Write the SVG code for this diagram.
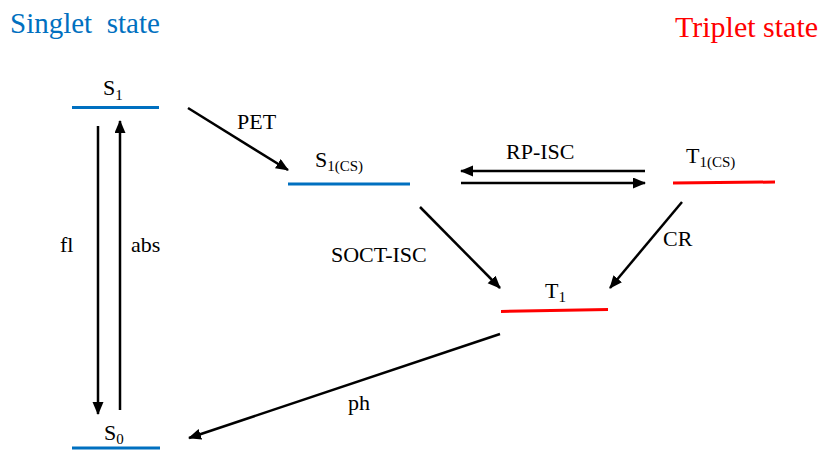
<svg xmlns="http://www.w3.org/2000/svg" width="823" height="463" viewBox="0 0 823 463">
<style>
.t{font-family:'Liberation Serif','DejaVu Serif',serif;fill:#000}
.lbl{font-size:22px}
.sub{font-size:15px}
.blue{stroke:#0070C0;stroke-width:3}
.red{stroke:#FF0000;stroke-width:3}
.arr{stroke:#000;stroke-width:2.5;fill:none;marker-end:url(#ah)}
</style>
<defs>
<marker id="ah" markerUnits="userSpaceOnUse" markerWidth="14" markerHeight="12" refX="12" refY="5.5" orient="auto">
<path d="M0,0 L13,5.5 L0,11 z" fill="#000"/>
</marker>
</defs>
<rect width="823" height="463" fill="#fff"/>
<g font-family="Liberation Serif, DejaVu Serif, serif">
<g id="title-singlet"><text class="t" x="10" y="33" font-size="29" fill="#0070C0" style="white-space:pre;fill:#0070C0">Singlet  state</text></g>
<g id="title-triplet"><text class="t" x="675" y="37" font-size="30" fill="#FF0000" style="fill:#FF0000">Triplet state</text></g>

<g id="S1">
<line class="blue" x1="72" y1="107.5" x2="159" y2="107.5"/>
<text class="t lbl" x="103" y="95">S<tspan class="sub" dy="5">1</tspan></text>
</g>
<g id="S1CS">
<line class="blue" x1="288" y1="184" x2="410" y2="184"/>
<text class="t lbl" x="315" y="167">S<tspan class="sub" dy="4">1(CS)</tspan></text>
</g>
<g id="T1CS">
<line class="red" x1="673" y1="183" x2="775" y2="182"/>
<text class="t lbl" x="686" y="163">T<tspan class="sub" dy="4">1(CS)</tspan></text>
</g>
<g id="T1">
<line class="red" x1="501" y1="311.5" x2="608" y2="309.5"/>
<text class="t lbl" x="545" y="298">T<tspan class="sub" dy="4">1</tspan></text>
</g>
<g id="S0">
<line class="blue" x1="72" y1="448" x2="160" y2="448"/>
<text class="t lbl" x="104" y="440">S<tspan class="sub" dy="4">0</tspan></text>
</g>

<g id="connectors">
<line class="arr" x1="98" y1="126" x2="98" y2="414"/>
<line class="arr" x1="120" y1="410" x2="120" y2="121"/>
<line class="arr" x1="188" y1="108" x2="288" y2="170"/>
<line class="arr" x1="645" y1="171" x2="461" y2="171"/>
<line class="arr" x1="461" y1="183" x2="645" y2="183"/>
<line class="arr" x1="420" y1="207" x2="500" y2="288"/>
<line class="arr" x1="682" y1="202" x2="610" y2="288"/>
<line class="arr" x1="500" y1="334" x2="189" y2="438"/>
<text class="t lbl" x="237" y="129">PET</text>
<text class="t lbl" x="506" y="159">RP-ISC</text>
<text class="t lbl" x="331" y="262">SOCT-ISC</text>
<text class="t lbl" x="663" y="246">CR</text>
<text class="t lbl" x="60" y="252">fl</text>
<text class="t lbl" x="131" y="252">abs</text>
<text class="t lbl" x="348" y="410">ph</text>
</g>
</g>
</svg>
